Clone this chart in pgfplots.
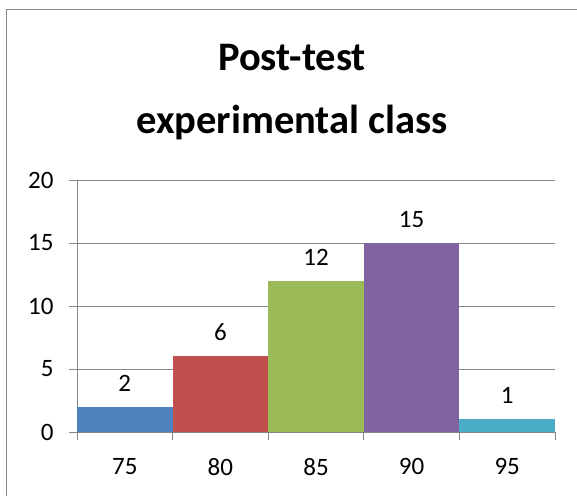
\documentclass[border=0pt]{standalone}
\usepackage{pgfplots}
\pgfplotsset{compat=1.18}
\usepackage{fontspec}
\setmainfont{Carlito}
\definecolor{c1}{HTML}{4F81BD}
\definecolor{c2}{HTML}{C0504D}
\definecolor{c3}{HTML}{9BBB59}
\definecolor{c4}{HTML}{8064A2}
\definecolor{c5}{HTML}{4BACC6}
\definecolor{gridc}{HTML}{868686}
\begin{document}
\begin{tikzpicture}
\clip (-77pt,-63pt) rectangle (500pt,432pt);
\fill[white] (-77pt,-63pt) rectangle (500pt,432pt);
\draw[gridc, line width=1pt] (-70pt,-80pt) rectangle (520pt,422pt);
\node[font=\fontsize{40.5}{63}\selectfont\bfseries, align=center] at (215pt,340pt) {Post-test\\experimental class};
\begin{axis}[
  at={(0pt,0pt)}, anchor=south west,
  scale only axis, width=478pt, height=252pt,
  xmin=0, xmax=5, ymin=0, ymax=20,
  axis x line*=bottom, axis y line*=left,
  axis line style={gridc, line width=0.8pt, -},
  xtick={0,1,2,3,4,5}, xticklabels={75,80,85,90,95},
  x tick label as interval,
  ytick={0,5,10,15,20},
  ymajorgrids, grid style={gridc, line width=0.8pt},
  tick style={gridc, line width=0.8pt},
  major tick length=8pt,
  tick align=outside,
  every tick label/.append style={font=\fontsize{25}{30}\selectfont, text=black},
  /pgf/number format/assume math mode=true,
  xticklabel style={yshift=-15pt},
  yticklabel style={xshift=-12pt},
  ybar, bar width=1, bar shift=0,
  nodes near coords,
  every node near coord/.append style={font=\fontsize{25}{30}\selectfont, text=black, yshift=12pt},
]
\addplot[fill=c1, draw=none] coordinates {(0.5,2)};
\addplot[fill=c2, draw=none] coordinates {(1.5,6)};
\addplot[fill=c3, draw=none] coordinates {(2.5,12)};
\addplot[fill=c4, draw=none] coordinates {(3.5,15)};
\addplot[fill=c5, draw=none] coordinates {(4.5,1)};
\end{axis}
\end{tikzpicture}
\end{document}
